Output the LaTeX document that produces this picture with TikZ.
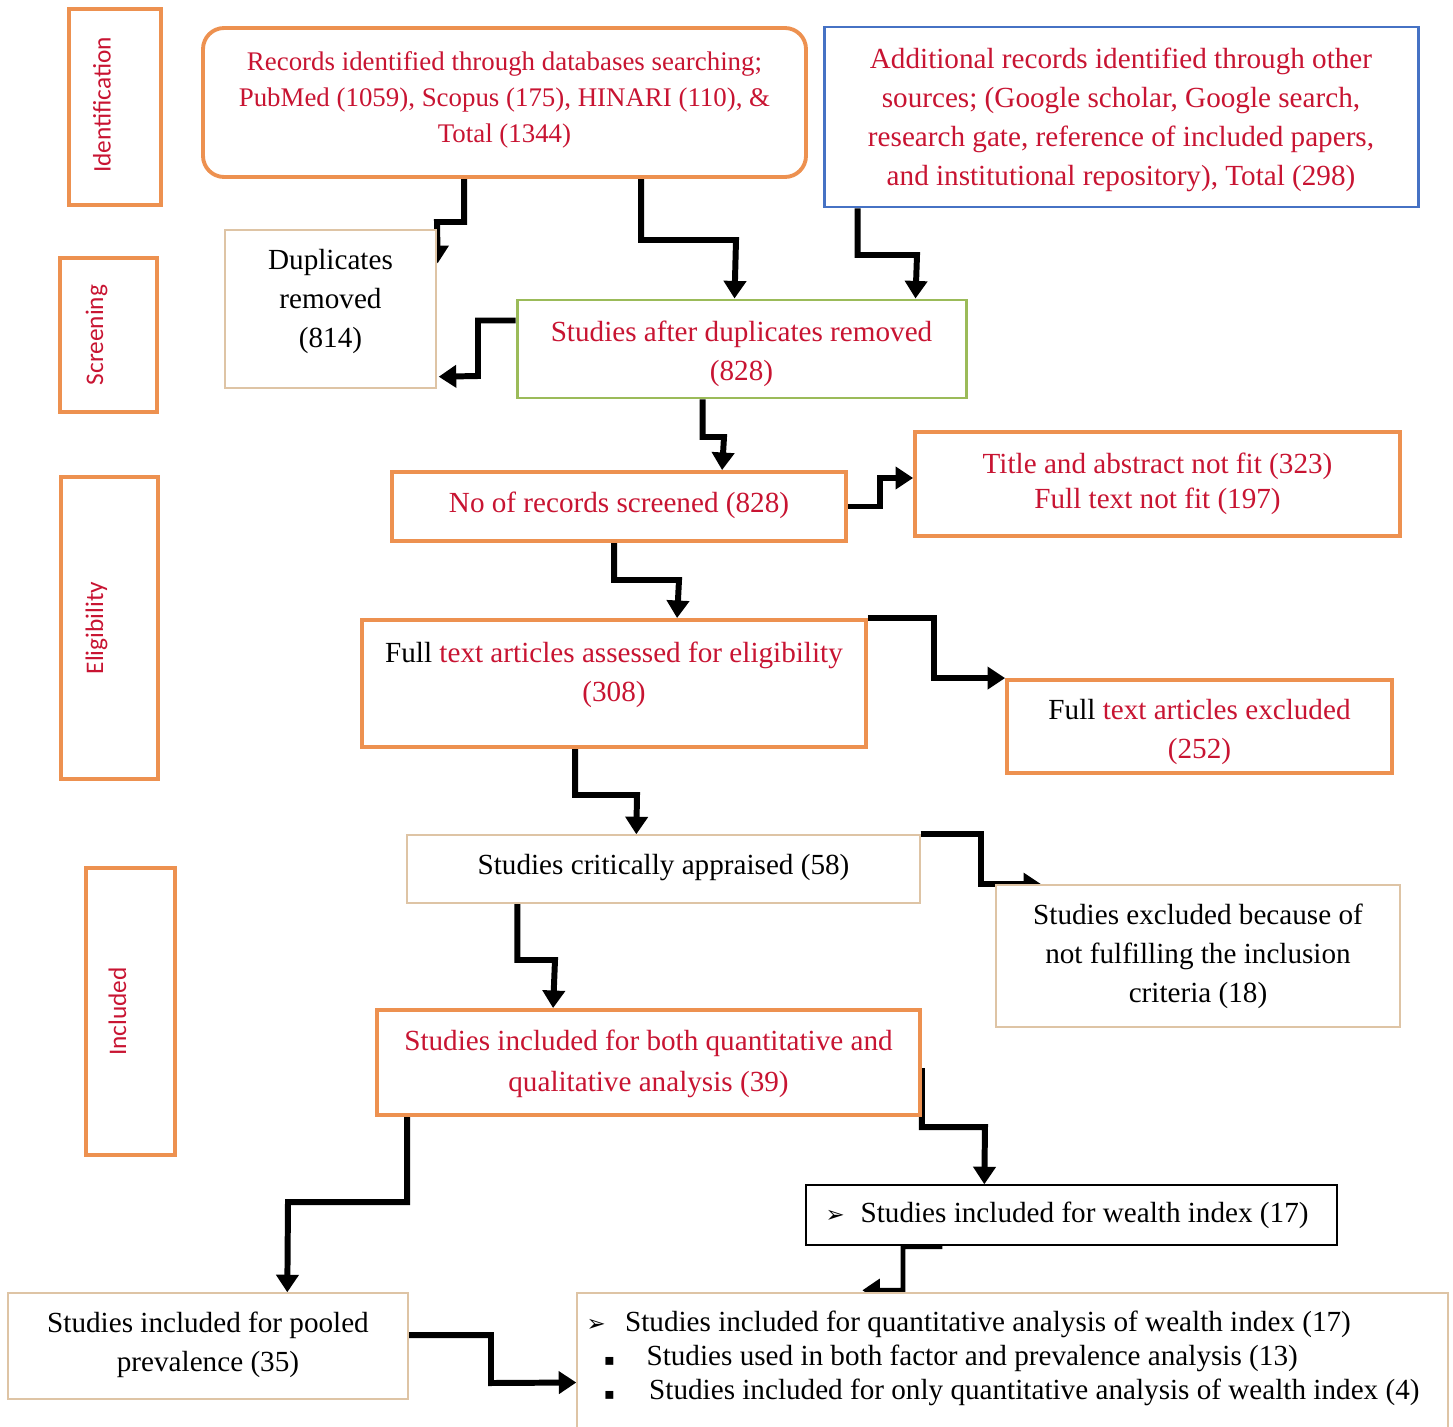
\documentclass[tikz,border=0pt]{standalone}
\usepackage{fontspec}
\setmainfont{Liberation Serif}
\newfontfamily\carlito{Carlito}
\newfontfamily\symfont{DejaVu Sans}
\usetikzlibrary{fit,arrows.meta,calc,backgrounds}
\definecolor{borange}{RGB}{237,145,80}
\definecolor{tred}{RGB}{200,20,50}
\definecolor{bblue}{RGB}{70,114,196}
\definecolor{bgreen}{RGB}{155,187,89}
\definecolor{btan}{RGB}{222,196,165}
\begin{document}
\begin{tikzpicture}[x=0.02cm,y=-0.02cm,
 every node/.style={font=\fontsize{16.6}{22.2}\selectfont},
 obox/.style={draw=borange,line width=2.2pt,inner sep=0pt,fill=white},
 tbox/.style={draw=btan,line width=0.8pt,inner sep=0pt,fill=white},
 rtxt/.style={inner sep=0pt,align=center,text=tred},
 ktxt/.style={inner sep=0pt,align=center,text=black},
 side/.style={draw=borange,line width=2.2pt,inner sep=0pt},
 sidetxt/.style={rotate=90,text=tred,font=\carlito\fontsize{14.4}{16}\selectfont},
 arr/.style={line width=3.4pt,line join=miter,-{Triangle[width=12.5pt,length=10pt]}}
]
\useasboundingbox (0,0) rectangle (1453,1426);

% side labels
\node[side,fit={(69,9) (161,205)}] (sid) {};
\node[sidetxt] (sidt) at ($(sid.center)+(-13,-2)$) {Identification};
\node[side,fit={(60,258) (157,412)}] (ssc) {};
\node[sidetxt] (ssct) at ($(ssc.center)+(-12,0)$) {Screening};
\node[side,fit={(61,477) (158,779)}] (sel) {};
\node[sidetxt] (selt) at ($(sel.center)+(-13,0)$) {Eligibility};
\node[side,fit={(86,868) (175,1155)}] (sin) {};
\node[sidetxt] (sint) at ($(sin.center)+(-13,0)$) {Included};

% main boxes
\node[obox,rounded corners=12pt,fit={(203,28) (806,177)}] (A) {};
\node[rtxt,font=\fontsize{15.3}{20.6}\selectfont] (At) at ($(A.center)+(0,-2.5)$) {Records identified through databases searching;\\ PubMed (1059), Scopus (175), HINARI (110), \&\\ Total (1344)};

\node[obox,draw=bblue,line width=1.7pt,fit={(824,27) (1418,207)}] (B) {};
\node[rtxt] (Bt) at ($(B.center)+(0,3)$) {Additional records identified through other\\ sources; (Google scholar, Google search,\\ research gate, reference of included papers,\\ and institutional repository), Total (298)};

\node[tbox,fit={(225,230) (436,388)}] (dup) {};
\node[ktxt] (dupt) at ($(dup.center)+(0,-8)$) {Duplicates\\ removed\\ (814)};

\node[obox,draw=bgreen,line width=1.7pt,fit={(517,300) (966,398)}] (mid) {};
\node[rtxt] (midt) at ($(mid.center)+(0,5)$) {Studies after duplicates removed\\ (828)};

\node[obox,fit={(392,472) (846,541)}] (nrec) {};
\node[rtxt] (nrect) at ($(nrec.center)+(0,-1)$) {No of records screened (828)};

\node[obox,fit={(915,432) (1400,536)}] (title) {};
\node[rtxt,font=\fontsize{16.6}{20}\selectfont] (titlet) at (title.center) {Title and abstract not fit (323)\\ Full text not fit (197)};

\node[obox,fit={(362,620) (866,747)}] (fta) {};
\node[rtxt] (ftat) at ($(fta.center)+(0,-9)$) {{\color{black}Full} text articles assessed for eligibility\\ (308)};

\node[obox,fit={(1007,680) (1392,773)}] (fte) {};
\node[rtxt] (ftet) at ($(fte.center)+(0,5)$) {{\color{black}Full} text articles excluded\\ (252)};

\node[tbox,fit={(407,835) (920,903)}] (crit) {};
\node[ktxt] (critt) at ($(crit.center)+(0,-1)$) {Studies critically appraised (58)};

\node[tbox,fit={(996,885) (1400,1027)}] (exb) {};
\node[ktxt] (exbt) at (exb.center) {Studies excluded because of\\ not fulfilling the inclusion\\ criteria (18)};

\node[obox,fit={(377,1010) (920,1115)}] (both) {};
\node[rtxt,font=\fontsize{16.6}{23.2}\selectfont] (botht) at ($(both.center)+(0,1)$) {Studies included for both quantitative and\\ qualitative analysis (39)};

\node[draw=black,line width=0.8pt,fill=white,inner sep=0pt,fit={(806,1185) (1337,1245)}] (wealth) {};
\node[anchor=west,inner sep=0pt] (wealtht) at ($(wealth.west)+(20,0)$) {{\symfont\fontsize{13}{13}\selectfont ➢}\hspace{9pt}Studies included for wealth index (17)};

\node[tbox,fit={(8,1293) (408,1399)}] (pool) {};
\node[ktxt] (poolt) at ($(pool.center)+(0,-1)$) {Studies included for pooled\\ prevalence (35)};

\node[tbox,fit={(577,1293) (1448,1430)}] (quant) {};
\node[anchor=north west,inner sep=0pt,align=left,font=\fontsize{16.6}{19.5}\selectfont] (quantt) at ($(quant.north west)+(10,18)$) {%
{\symfont\fontsize{13}{13}\selectfont ➢}\hspace{11pt}Studies included for quantitative analysis of wealth index (17)\\
\hspace{10pt}{\symfont\fontsize{9}{13}\selectfont ▪}\hspace{18pt}Studies used in both factor and prevalence analysis (13)\\
\hspace{10pt}{\symfont\fontsize{9}{13}\selectfont ▪}\hspace{19.5pt}Studies included for only quantitative analysis of wealth index (4)};

% connectors
\begin{pgfonlayer}{background}
\draw[arr] ($(A.south west)+(263,0)$) |- (437,222) -- ($(dup.north east)+(1,34)$);
\draw[arr] ($(A.south west)+(440,0)$) |- (736,240) -- ($(mid.north west)+(219,0)$);
\draw[arr] ($(B.south west)+(35,0)$) |- (917,255) -- ($(mid.north west)+(400,0)$);
\draw[arr] ($(mid.north west)+(0,22)$) -| (478,376) -- ($(dup.south east)+(2,-12)$);
\draw[arr] ($(mid.south west)+(187,0)$) |- (724,437) -- ($(nrec.north west)+(332,0)$);
\draw[arr] (nrec.east) -| (880,478) -- ($(title.west)+(0,-6)$);
\draw[arr] ($(nrec.south west)+(224,0)$) |- (679,580) -- ($(fta.north west)+(317,0)$);
\draw[arr] (fta.north east) -| ($(fte.north west)+(-71,0)$) -- (fte.north west);
\draw[arr] ($(fta.south west)+(215,0)$) |- (637,795) -- ($(crit.north west)+(230,0)$);
\draw[arr] (crit.north east) -| ($(exb.north west)+(-14,0)$) -- ($(exb.north west)+(46,0)$);
\draw[arr] ($(crit.south west)+(111,0)$) |- (555,960) -- ($(both.north west)+(178,0)$);
\draw[arr] ($(both.north east)+(0,60)$) |- (985,1127) -- ($(wealth.north west)+(179,0)$);
\draw[arr] ($(both.south west)+(32,0)$) |- (288,1202) -- ($(pool.north west)+(280,0)$);
\draw[arr] ($(pool.east)+(0,-11)$) -| (491,1383) -- ($(quant.west)+(0,21)$);
\draw[arr,line width=2.6pt] ($(wealth.south west)+(137,1)$) -| (903,1290) -- ($(quant.north west)+(286,-2)$);
\end{pgfonlayer}
\end{tikzpicture}
\end{document}
